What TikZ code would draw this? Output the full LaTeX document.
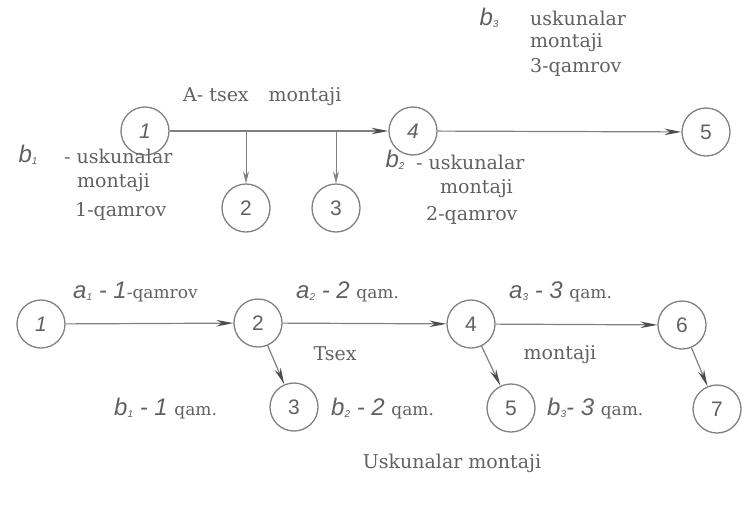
\documentclass[tikz,border=0pt]{standalone}
\usepackage{fontspec}
\setmainfont{DejaVu Serif}
\newfontfamily\labfont{Liberation Sans}
\usetikzlibrary{arrows.meta}
\definecolor{ln}{gray}{0.5}
\definecolor{tip}{gray}{0.3}
\definecolor{tx}{gray}{0.38}
\newcommand\syf{\labfont\itshape\fontsize{24}{24}\selectfont}
\newcommand\subn[1]{\raisebox{-2pt}{\labfont\fontsize{10}{10}\selectfont #1}}
\newcommand\qm[1]{{\rmfamily\upshape\fontsize{17}{17}\selectfont #1}}
\begin{document}
\begin{tikzpicture}[x=1pt,y=-1pt,
  ev/.style={circle,draw=ln,line width=1.3pt,minimum size=48pt,inner sep=0pt,text=tx,font=\labfont\fontsize{21}{21}\selectfont},
  evi/.style={ev,font=\labfont\itshape\fontsize{21}{21}\selectfont},
  txt/.style={text=tx,font=\fontsize{19}{19}\selectfont,inner sep=0pt},
  sym/.style={text=tx,inner sep=0pt},
  arr/.style={draw=ln,line width=1.2pt,-{Stealth[length=17pt,width=6.5pt,color=tip]}},
  thinarr/.style={draw=ln,line width=0.9pt,-{Stealth[length=12pt,width=6pt]}}]
\useasboundingbox (0,0) rectangle (751,504);
% ---------- top network ----------
\node[evi] (t1) at (145,131) {1};
\node[evi] (t4) at (413,131) {4};
\node[ev]  (t5) at (706,132) {5};
\node[ev]  (t2) at (246,208) {2};
\node[ev]  (t3) at (336,208) {3};
\coordinate (j2) at (246,131);
\coordinate (j3) at (336,131);
\draw[arr] (t1) -- (t4);
\draw[arr] (t4) -- (t5);
\draw[thinarr] (j2) -- (t2);
\draw[thinarr] (j3) -- (t3);
\node[txt,anchor=west] (lA) at (183,97) {A- tsex\hspace{20pt}montaji};
\node[sym] (lb3) at (489,18) {\syf b\subn{3}};
\node[txt,anchor=west] (lb3a) at (530,18) {uskunalar};
\node[txt,anchor=west] (lb3b) at (530,43) {montaji};
\node[txt,anchor=west] (lb3c) at (530,67) {3-qamrov};
\node[sym] (lb1) at (28,155) {\syf b\subn{1}};
\node[txt,anchor=west] (lb1a) at (64,156) {- uskunalar};
\node[txt,anchor=west] (lb1b) at (77,183) {montaji};
\node[txt,anchor=west] (lb1c) at (75,211) {1-qamrov};
\node[sym] (lb2) at (395,160) {\syf b\subn{2}};
\node[txt,anchor=west] (lb2a) at (416,162) {- uskunalar};
\node[txt,anchor=west] (lb2b) at (440,189) {montaji};
\node[txt,anchor=west] (lb2c) at (426,215) {2-qamrov};
% ---------- bottom network ----------
\node[evi] (b1) at (41,324) {1};
\node[ev] (b2) at (258,323) {2};
\node[ev] (b4) at (471,324) {4};
\node[ev] (b6) at (682,325) {6};
\node[ev] (b3) at (294,407) {3};
\node[ev] (b5) at (511,408) {5};
\node[ev] (b7) at (717,409) {7};
\draw[arr] (b1) -- (b2);
\draw[arr] (b2) -- (b4);
\draw[arr] (b4) -- (b6);
\draw[arr] (b2) -- (b3);
\draw[arr] (b4) -- (b5);
\draw[arr] (b6) -- (b7);
\node[sym,anchor=west] (la1) at (73,292) {\syf a\subn{1} - 1\qm{-qamrov}};
\node[sym,anchor=west] (la2) at (296,292) {\syf a\subn{2} - 2 \qm{qam.}};
\node[sym,anchor=west] (la3) at (509,292) {\syf a\subn{3} - 3 \qm{qam.}};
\node[txt] (lts) at (335,354) {Tsex};
\node[txt] (lmo) at (560,355) {montaji};
\node[sym,anchor=west] (lq1) at (114,409) {\syf b\subn{1} - 1 \qm{qam.}};
\node[sym,anchor=west] (lq2) at (331,409) {\syf b\subn{2} - 2 \qm{qam.}};
\node[sym,anchor=west] (lq3) at (547,409) {\syf b\subn{3}- 3 \qm{qam.}};
\node[txt] (lus) at (452,463) {Uskunalar montaji};
\end{tikzpicture}
\end{document}
